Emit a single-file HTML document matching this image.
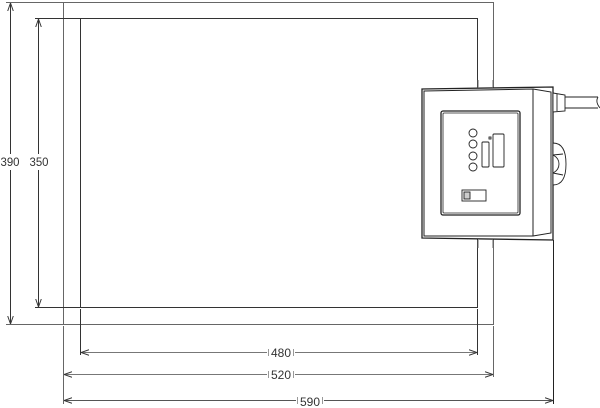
<!DOCTYPE html>
<html><head><meta charset="utf-8"><style>html,body{margin:0;padding:0;background:#fff}svg{display:block}</style></head>
<body>
<svg width="600" height="408" viewBox="0 0 600 408" xmlns="http://www.w3.org/2000/svg" font-family="Liberation Sans, sans-serif" font-size="12" fill="none">
<defs>
<marker id="a" viewBox="0 0 10 10" refX="10" refY="5" markerWidth="8" markerHeight="8" orient="auto-start-reverse" markerUnits="userSpaceOnUse"><path d="M0,1.5 L10,5 L0,8.5" stroke="#333" stroke-width="1.2" fill="none"/></marker>
</defs>
<g stroke="#666" stroke-width="1">
<rect x="63.5" y="2.5" width="430" height="322"/>
<rect x="80.5" y="18.5" width="397" height="289" stroke="#333"/>
<line x1="6" y1="2.5" x2="63" y2="2.5"/>
<line x1="6" y1="324.5" x2="63" y2="324.5"/>
<line x1="35" y1="18.5" x2="80" y2="18.5" stroke="#333"/>
<line x1="35" y1="307.5" x2="80" y2="307.5" stroke="#333"/>
<line x1="63.5" y1="326" x2="63.5" y2="404"/>
<line x1="493.5" y1="326" x2="493.5" y2="377"/>
<line x1="80.5" y1="309" x2="80.5" y2="355" stroke="#333"/>
<line x1="477.5" y1="309" x2="477.5" y2="355" stroke="#333"/>
<line x1="553.5" y1="240" x2="553.5" y2="404" stroke="#222"/>
<line x1="10.5" y1="3" x2="10.5" y2="154" stroke="#333" marker-start="url(#a)"/>
<line x1="10.5" y1="170" x2="10.5" y2="324" stroke="#333" marker-end="url(#a)"/>
<line x1="38.5" y1="19" x2="38.5" y2="154" stroke="#333" marker-start="url(#a)"/>
<line x1="38.5" y1="170" x2="38.5" y2="307" stroke="#333" marker-end="url(#a)"/>
<line x1="81" y1="352.5" x2="267" y2="352.5" stroke="#777" marker-start="url(#a)"/>
<line x1="295" y1="352.5" x2="477" y2="352.5" stroke="#777" marker-end="url(#a)"/>
<line x1="64" y1="374.5" x2="267" y2="374.5" stroke="#777" marker-start="url(#a)"/>
<line x1="295" y1="374.5" x2="493" y2="374.5" stroke="#777" marker-end="url(#a)"/>
<line x1="64" y1="400.5" x2="296" y2="400.5" stroke="#555" marker-start="url(#a)"/>
<line x1="324" y1="400.5" x2="553" y2="400.5" stroke="#555" marker-end="url(#a)"/>
<g stroke="#999">
<line x1="268.5" y1="349" x2="268.5" y2="356"/><line x1="293.5" y1="349" x2="293.5" y2="356"/>
<line x1="268.5" y1="371" x2="268.5" y2="378"/><line x1="293.5" y1="371" x2="293.5" y2="378"/>
<line x1="297.5" y1="397" x2="297.5" y2="404"/><line x1="322.5" y1="397" x2="322.5" y2="404"/>
</g>
</g>
<g fill="#333" stroke="none">
<rect x="3" y="154" width="16" height="16" fill="#fff"/>
<rect x="30" y="154" width="18" height="16" fill="#fff"/>
<text x="10" y="166" text-anchor="middle" textLength="19" lengthAdjust="spacingAndGlyphs">390</text>
<text x="39" y="166" text-anchor="middle" textLength="19" lengthAdjust="spacingAndGlyphs">350</text>
<text x="281" y="357" text-anchor="middle" textLength="20" lengthAdjust="spacingAndGlyphs">480</text>
<text x="281" y="379" text-anchor="middle" textLength="20" lengthAdjust="spacingAndGlyphs">520</text>
<text x="310" y="406" text-anchor="middle" textLength="20" lengthAdjust="spacingAndGlyphs">590</text>
</g>
<g stroke="#222" stroke-width="1.3" fill="#fff">
<path d="M422,89 L553,87 L553,240 L422,238 Z" fill="#fff"/>
<path d="M424,91 L533,89 L533,236 L424,236 Z" stroke-width="1"/>
<path d="M533,89 L551,92 L551,233 L533,236" stroke-width="1" fill="none"/>
<rect x="441" y="111" width="79" height="104" rx="2"/>
<rect x="443" y="113" width="75" height="100" rx="1" stroke-width="0.8"/>
<g stroke-width="0.9" fill="#fff">
<circle cx="473" cy="133" r="4"/><circle cx="473" cy="144" r="4"/><circle cx="473" cy="156" r="4"/><circle cx="473" cy="167" r="4"/>
<rect x="482" y="142" width="7" height="25" rx="1"/>
<rect x="493" y="134" width="11" height="33" rx="1"/>
<rect x="489" y="137" width="2" height="2"/>
<rect x="462" y="190" width="24" height="11"/>
<rect x="464" y="192" width="6" height="7" fill="#ccc"/>
<path d="M553,93 L565,95 L565,111 L553,112 Z"/>
<line x1="557" y1="94" x2="557" y2="111"/>
<path d="M565,97 L598,97 M565,108 L598,108"/>
<path d="M598,97 q-3,5 2,11" fill="none"/>
<path d="M553,143 Q566,143 566,164 Q566,185 553,185 Z"/>
<path d="M553,155 Q559,158 559,164 Q559,170 553,173" fill="none"/>
<line x1="553" y1="155" x2="563" y2="154"/><line x1="553" y1="173" x2="563" y2="175"/>
</g>
</g>
<g stroke="#666" stroke-width="1">
<line x1="478" y1="80" x2="478" y2="88"/><line x1="493" y1="80" x2="493" y2="87"/>
<line x1="478" y1="240" x2="478" y2="248"/><line x1="493" y1="240" x2="493" y2="248"/>
</g>
</svg>
</body></html>
